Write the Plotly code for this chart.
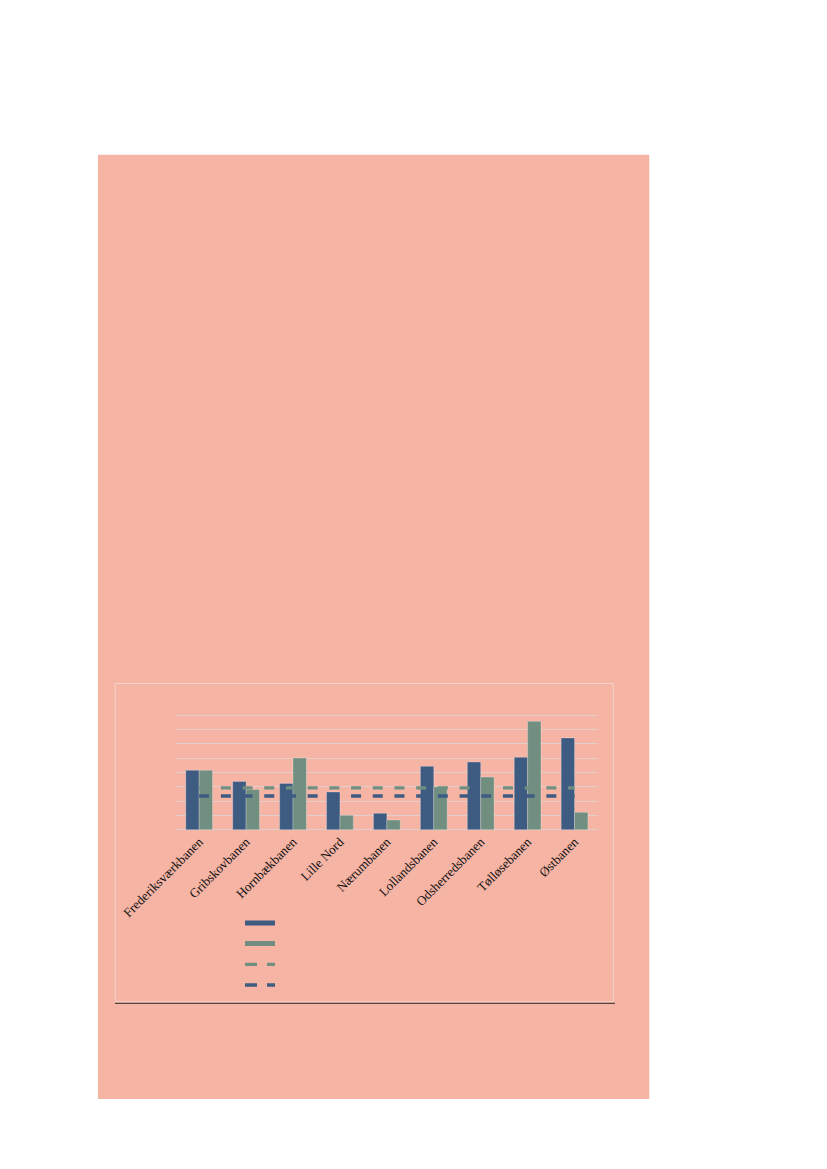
import plotly.graph_objects as go

categories = ["Frederiksværkbanen", "Gribskovbanen", "Hornbækbanen", "Lille Nord",
              "Nærumbanen", "Lollandsbanen", "Odsherredsbanen", "Tølløsebanen", "Østbanen"]
series_a = [4.14, 3.37, 3.23, 2.63, 1.14, 4.42, 4.72, 5.05, 6.40]
series_b = [4.14, 2.81, 5.00, 1.00, 0.67, 3.00, 3.67, 7.56, 1.21]
avg_b = 2.91
avg_a = 2.35

W, H = 827, 1169
OFF = 8  # page body margin
BLUE = "#3E5B82"
GREEN = "#718F80"
SALMON = "#F6B4A5"
GRID = "#E2CFCB"

def px(x):
    return (x - OFF) / W

def py(y):
    return 1 - (y - OFF) / H

PAD = 0.08          # small range padding so the edge gridlines are drawn
UNIT = (829.7 - 715) / 8

fig = go.Figure()

fig.add_trace(go.Bar(x=categories, y=series_a, marker=dict(color=BLUE, line=dict(color="rgba(255,255,255,0.25)", width=1)),
                     showlegend=False))
fig.add_trace(go.Bar(x=categories, y=series_b, marker=dict(color=GREEN, line=dict(color="rgba(255,255,255,0.25)", width=1)),
                     showlegend=False))
fig.add_trace(go.Scatter(x=categories, y=[avg_b] * len(categories), mode="lines",
                         line=dict(color=GREEN, width=3.3, dash="10px,11.7px"), showlegend=False))
fig.add_trace(go.Scatter(x=categories, y=[avg_a] * len(categories), mode="lines",
                         line=dict(color=BLUE, width=3.3, dash="10px,11.7px"), showlegend=False))

# legend entries (the reference legend shows symbols without text)
fig.add_trace(go.Scatter(x=[None], y=[None], mode="lines", name=" ",
                         line=dict(color=BLUE, width=5), legendrank=1))
fig.add_trace(go.Scatter(x=[None], y=[None], mode="lines", name=" ",
                         line=dict(color=GREEN, width=5), legendrank=2))
fig.add_trace(go.Scatter(x=[None], y=[None], mode="lines", name=" ",
                         line=dict(color=GREEN, width=3.3, dash="12px,10px"), legendrank=3))
fig.add_trace(go.Scatter(x=[None], y=[None], mode="lines", name=" ",
                         line=dict(color=BLUE, width=3.3, dash="12px,10px"), legendrank=4))

fig.update_layout(
    width=W, height=H,
    paper_bgcolor="white",
    plot_bgcolor="rgba(0,0,0,0)",
    margin=dict(l=0, r=0, t=0, b=0, autoexpand=False),
    barmode="group",
    bargap=0.43,
    bargroupgap=0,
    font=dict(family="Liberation Serif", color="black"),
    xaxis=dict(domain=[px(175.7), px(598)], tickangle=-45, tickfont=dict(size=13, family="Liberation Serif", color="#111"),
               showgrid=False, showline=False, ticks="", zeroline=False, automargin=False),
    yaxis=dict(domain=[py(829.7 + PAD * UNIT), py(715 - PAD * UNIT)], range=[-PAD, 8 + PAD], tickvals=list(range(0, 9)),
               showticklabels=False, gridcolor=GRID, gridwidth=1, zeroline=False, showline=False, ticks="",
               automargin=False),
    legend=dict(x=px(240), y=py(907.6), xanchor="left", yanchor="top", bgcolor="rgba(0,0,0,0)",
                font=dict(size=13.6), tracegroupgap=0, itemwidth=30),
    shapes=[
        dict(type="rect", xref="paper", yref="paper", x0=px(98), x1=px(649.3), y0=py(1099), y1=py(154.7),
             fillcolor=SALMON, line=dict(width=0), layer="below"),
        dict(type="rect", xref="paper", yref="paper", x0=px(115.3), x1=px(613.3), y0=py(1001.7), y1=py(683.5),
             fillcolor="rgba(0,0,0,0)", line=dict(color="#F2D2CA", width=1), layer="below"),
        dict(type="line", xref="paper", yref="paper", x0=px(115), x1=px(615), y0=py(1003.3), y1=py(1003.3),
             line=dict(color="#5A4440", width=1.2), layer="below"),
    ],
)

fig.write_html("out.html")
